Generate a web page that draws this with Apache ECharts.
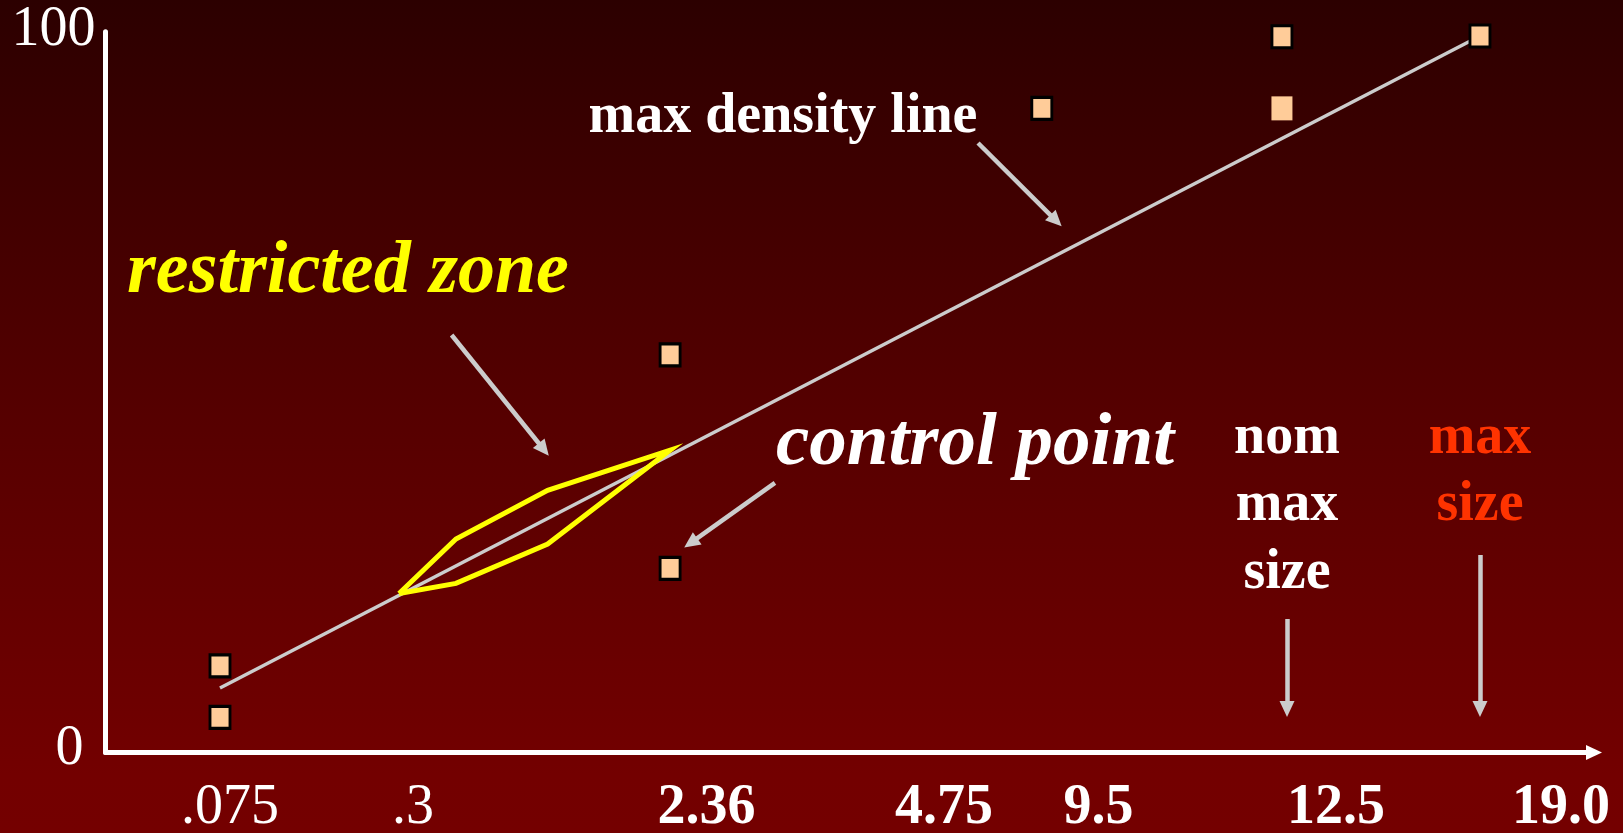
<!DOCTYPE html>
<html>
<head>
<meta charset="utf-8">
<script src="https://cdn.jsdelivr.net/npm/echarts@6/dist/echarts.min.js"></script>
<style>
  html, body { margin: 0; padding: 0; overflow: hidden; }
  #chart {
    width: 1623px; height: 833px;
    background: linear-gradient(to bottom, #2c0000 0%, #560000 50%, #730000 93%, #740000 100%);
  }
</style>
</head>
<body>
<div id="chart"></div>
<script>
// Sieve openings (mm) and where each one sits along the 0.45-power gradation axis
const sieveSizes = ['.075', '.3', '.6', '1.18', '2.36', '9.5', '12.5', '19.0'];
const sievePos   = [7.66, 19.65, 23.46, 29.6, 37.8, 62.69, 78.77, 92.03];

// Tick labels under the horizontal axis and their spots on that axis
const tickLabels = ['.075', '.3', '2.36', '4.75', '9.5', '12.5', '19.0'];
const tickPos    = [8.33, 20.58, 40.24, 56.14, 66.49, 82.39, 97.46];
const boldTicks  = ['2.36', '4.75', '9.5', '12.5', '19.0'];

// Vertical axis: percent passing
const yTicks = [0, 100];

// Control points (sieve, percent passing)
const controlSieves = ['.075', '.075', '2.36', '2.36', '9.5', '12.5', '12.5', '19.0'];
const controlValues = [12.1, 4.9, 55.5, 25.7, 89.9, 99.9, 89.9, 100];

// Maximum density line end points
const densitySieves = ['.075', '19.0'];
const densityValues = [9, 100];

// Restricted zone: upper and lower boundaries
const zoneSieves = ['.3', '.6', '1.18', '2.36'];
const zoneUpper  = [22.2, 29.8, 36.6, 42.2];
const zoneLower  = [22.2, 23.6, 29.1, 42.2];

// Pointer arrows, [from, to] in axis units
const pointers = [
  [[58.42, 85.07], [63.64, 74.23]],   // max density line
  [[23.17, 58.27], [29.34, 42.29]],   // restricted zone
  [[44.82, 37.64], [39.18, 29.25]],   // control point
  [[79.11, 18.63], [79.11, 6.07]],    // nom max size
  [[92.03, 27.56], [92.03, 6.07]]     // max size
];

const pos = s => sievePos[sieveSizes.indexOf(s)];
const SERIF = '"Liberation Serif", "Times New Roman", serif';

const densityData = densitySieves.map((s, i) => [pos(s), densityValues[i]]);
const zoneData = zoneSieves.map((s, i) => [pos(s), zoneUpper[i]])
  .concat(zoneSieves.slice().reverse().map((s, i) => [pos(s), zoneLower[zoneLower.length - 1 - i]]));
const controlData = controlSieves.map((s, i) => {
  const item = { value: [pos(s), controlValues[i]] };
  // the lower 12.5 point is drawn without an outline
  if (s === '12.5' && controlValues[i] < 95) {
    item.symbolSize = [21, 24];
    item.itemStyle = { borderWidth: 0 };
  }
  return item;
});

const chart = echarts.init(document.getElementById('chart'), null, { renderer: 'canvas' });

const option = {
  backgroundColor: 'transparent',
  animation: false,
  grid: { left: 105.6, right: 37, top: 31.7, bottom: 80.5, outerBoundsMode: 'none', containLabel: false },
  xAxis: {
    type: 'value', min: 0, max: 99.13,
    splitLine: { show: false },
    axisTick: { show: false },
    axisLine: {
      show: true, onZero: false,
      symbol: ['none', 'triangle'], symbolSize: [15, 16], symbolOffset: [0, 8],
      lineStyle: { color: '#ffffff', width: 5 }
    },
    axisLabel: {
      customValues: tickPos,
      margin: 28,
      color: '#ffffff',
      fontFamily: SERIF,
      fontSize: 56,
      formatter: v => {
        let k = 0;
        tickPos.forEach((p, i) => { if (Math.abs(p - v) < Math.abs(tickPos[k] - v)) k = i; });
        const t = tickLabels[k];
        return boldTicks.includes(t) ? '{b|' + t + '}' : '{r|' + t + '}';
      },
      rich: {
        b: { fontFamily: SERIF, fontSize: 56, fontWeight: 'bold', color: '#ffffff' },
        r: { fontFamily: SERIF, fontSize: 56, fontWeight: 'normal', color: '#ffffff' }
      }
    }
  },
  yAxis: {
    type: 'value', min: 0, max: 100.6,
    splitLine: { show: false },
    axisTick: { show: false },
    axisLine: { show: true, onZero: false, lineStyle: { color: '#ffffff', width: 5 } },
    axisLabel: {
      customValues: yTicks,
      margin: 10,
      color: '#ffffff',
      formatter: v => (v === 0 ? '{z|0}' : '{h|' + v + '}'),
      rich: {
        h: { fontFamily: SERIF, fontSize: 56, color: '#ffffff', padding: [0, 0, 12, 0] },
        z: { fontFamily: SERIF, fontSize: 56, color: '#ffffff', padding: [0, 12, 7, 0] }
      }
    }
  },
  series: [
    {
      name: 'max density line',
      type: 'line',
      data: densityData,
      symbol: 'none',
      silent: true,
      z: 2,
      lineStyle: { color: '#cccccc', width: 3.5 },
      markLine: {
        silent: true,
        symbol: ['none', 'triangle'],
        symbolSize: [15, 16],
        label: { show: false },
        lineStyle: { color: '#cccccc', width: 4.5, type: 'solid' },
        data: pointers.map(p => [{ coord: p[0] }, { coord: p[1] }])
      }
    },
    {
      name: 'restricted zone',
      type: 'line',
      data: zoneData,
      symbol: 'none',
      silent: true,
      z: 3,
      lineStyle: { color: '#ffff00', width: 5, join: 'miter' }
    },
    {
      name: 'control points',
      type: 'scatter',
      data: controlData,
      symbol: 'rect',
      symbolSize: [20, 22],
      silent: true,
      z: 4,
      itemStyle: { color: '#ffcc99', borderColor: '#000000', borderWidth: 3, opacity: 1 }
    }
  ],
  graphic: [
    { type: 'text', x: 783, y: 118, style: { text: 'max density line', fill: '#ffffff', font: 'bold 56px ' + SERIF, textAlign: 'center', textVerticalAlign: 'middle' } },
    { type: 'text', x: 348, y: 273, style: { text: 'restricted zone', fill: '#ffff00', font: 'italic bold 74px ' + SERIF, textAlign: 'center', textVerticalAlign: 'middle' } },
    { type: 'text', x: 975, y: 445, style: { text: 'control point', fill: '#ffffff', font: 'italic bold 75px ' + SERIF, textAlign: 'center', textVerticalAlign: 'middle' } },
    { type: 'text', x: 1287, y: 439, style: { text: 'nom', fill: '#ffffff', font: 'bold 56px ' + SERIF, textAlign: 'center', textVerticalAlign: 'middle' } },
    { type: 'text', x: 1287, y: 506, style: { text: 'max', fill: '#ffffff', font: 'bold 56px ' + SERIF, textAlign: 'center', textVerticalAlign: 'middle' } },
    { type: 'text', x: 1287, y: 574, style: { text: 'size', fill: '#ffffff', font: 'bold 56px ' + SERIF, textAlign: 'center', textVerticalAlign: 'middle' } },
    { type: 'text', x: 1480, y: 439, style: { text: 'max', fill: '#ff3300', font: 'bold 56px ' + SERIF, textAlign: 'center', textVerticalAlign: 'middle' } },
    { type: 'text', x: 1480, y: 506, style: { text: 'size', fill: '#ff3300', font: 'bold 56px ' + SERIF, textAlign: 'center', textVerticalAlign: 'middle' } }
  ]
};

chart.setOption(option);
</script>
</body>
</html>
